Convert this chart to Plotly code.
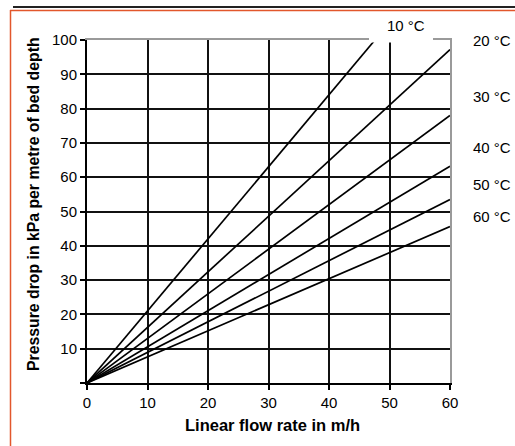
import plotly.graph_objects as go

# ---- data ----
temperatures = ["10 °C", "20 °C", "30 °C", "40 °C", "50 °C", "60 °C"]
start_flow = [0, 0, 0, 0, 0, 0]
start_drop = [0, 0, 0, 0, 0, 0]
end_flow = [47.6, 60, 60, 60, 60, 60]          # m/h
end_drop = [100, 97.2, 78.0, 63.2, 53.5, 45.6]  # kPa per metre of bed depth

x_ticks = [0, 10, 20, 30, 40, 50, 60]
y_ticks = [0, 10, 20, 30, 40, 50, 60, 70, 80, 90, 100]
y_ticktext = [""] + [str(v) for v in y_ticks[1:]]

# ---- layout helpers (pixel -> paper) ----
W, H = 515, 446
L, R, T, B = 87, 65, 40, 63
PW, PH = W - L - R, H - T - B


def px(x):
    return (x - L) / PW


def py(y):
    return (H - B - y) / PH


FONT = "Liberation Sans, Arial, sans-serif"
fig = go.Figure()

for name, x0, y0, x1, y1 in zip(temperatures, start_flow, start_drop, end_flow, end_drop):
    fig.add_trace(go.Scatter(
        x=[x0, x1], y=[y0, y1], mode="lines", name=name,
        line=dict(color="black", width=1.7), showlegend=False,
        hoverinfo="skip",
    ))

# dummy trace to activate the mirror axes (gray top/right frame)
fig.add_trace(go.Scatter(x=[None], y=[None], xaxis="x2", yaxis="y2",
                         showlegend=False, hoverinfo="skip"))

fig.update_layout(
    width=W, height=H,
    margin=dict(l=L, r=R, t=T, b=B, pad=0),
    paper_bgcolor="white", plot_bgcolor="white",
    font=dict(family=FONT, size=15, color="black"),
    xaxis=dict(
        range=[0, 60], tickvals=x_ticks, ticktext=[str(v) for v in x_ticks],
        showgrid=True, gridcolor="#111111", gridwidth=2,
        showline=True, linecolor="black", linewidth=2,
        ticks="outside", ticklen=5, tickwidth=2, tickcolor="black",
        zeroline=False, fixedrange=True,
        tickfont=dict(size=15),
    ),
    yaxis=dict(
        range=[0, 100], tickvals=y_ticks, ticktext=y_ticktext,
        showgrid=True, gridcolor="#111111", gridwidth=2,
        showline=True, linecolor="black", linewidth=2,
        ticks="outside", ticklen=5, tickwidth=2, tickcolor="black",
        zeroline=False, fixedrange=True,
        tickfont=dict(size=15),
    ),
    xaxis2=dict(
        overlaying="x", side="top", range=[0, 60], showgrid=False,
        showticklabels=False, ticks="", showline=True,
        linecolor="#9a9a9a", linewidth=2, zeroline=False, fixedrange=True,
    ),
    yaxis2=dict(
        overlaying="y", side="right", range=[0, 100], showgrid=False,
        showticklabels=False, ticks="", showline=True,
        linecolor="#9a9a9a", linewidth=2, zeroline=False, fixedrange=True,
    ),
)

shapes = [
    # white patch behind the "10 °C" label
    dict(type="rect", xref="paper", yref="paper",
         x0=px(369), x1=px(433), y0=py(42.5), y1=py(14),
         fillcolor="white", line=dict(width=0), layer="above"),
    # page frame: black top rule, orange rules
    dict(type="line", xref="paper", yref="paper",
         x0=px(13), x1=px(516), y0=py(7), y1=py(7),
         line=dict(color="#222222", width=2)),
    dict(type="line", xref="paper", yref="paper",
         x0=px(10), x1=px(516), y0=py(10.5), y1=py(10.5),
         line=dict(color="#e2572c", width=1.5)),
    dict(type="line", xref="paper", yref="paper",
         x0=px(10.5), x1=px(10.5), y0=py(10), y1=py(447),
         line=dict(color="#e2572c", width=1.5)),
]
fig.update_layout(shapes=shapes)

label_pos = {
    "10 °C": (406, 25),
    "20 °C": (492, 41),
    "30 °C": (492, 97),
    "40 °C": (492, 147),
    "50 °C": (492, 184),
    "60 °C": (492, 216),
}
annotations = []
for name in temperatures:
    x, y = label_pos[name]
    annotations.append(dict(
        text=name, xref="paper", yref="paper", x=px(x), y=py(y),
        xanchor="center", yanchor="middle", showarrow=False,
        font=dict(size=15, family=FONT, color="black"),
    ))

annotations.append(dict(
    text="<b>Linear flow rate in m/h</b>", xref="paper", yref="paper",
    x=px(272), y=py(425), xanchor="center", yanchor="middle",
    showarrow=False, font=dict(size=16.5, family=FONT, color="black"),
))
annotations.append(dict(
    text="<b>Pressure drop in kPa per metre of bed depth</b>",
    xref="paper", yref="paper", x=px(33), y=py(204),
    xanchor="center", yanchor="middle", textangle=-90,
    showarrow=False, font=dict(size=15.8, family=FONT, color="black"),
))
fig.update_layout(annotations=annotations)

fig.write_html(
    "out.html",
    config={"displayModeBar": False, "staticPlot": True},
    post_script="document.body.style.margin='0';document.body.style.overflow='hidden';",
)
